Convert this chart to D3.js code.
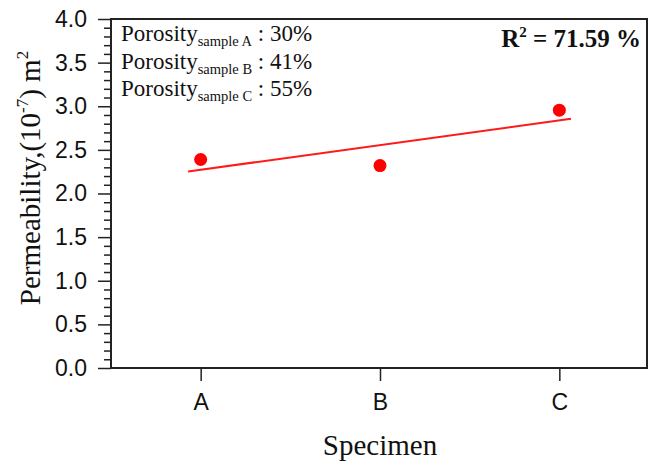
<!DOCTYPE html>
<html><head><meta charset="utf-8">
<script src="https://cdn.jsdelivr.net/npm/d3@7"></script>
<style>html,body{margin:0;padding:0;background:#fff;}svg{display:block;}</style>
</head><body>
<svg id="chart" width="653" height="465"></svg>
<script>
const categories = ["A", "B", "C"];
const permeability = [2.39, 2.32, 2.955];
const sampleNames = ["sample A", "sample B", "sample C"];
const porosity = ["30%", "41%", "55%"];
const yTickValues = [0, 0.5, 1.0, 1.5, 2.0, 2.5, 3.0, 3.5, 4.0];
const r2Text = "71.59 %";
const fitRange = [-0.07, 2.065];

const svg = d3.select("#chart");
const L = 111, R = 647, T = 19, B = 368;
const sans = "'Liberation Sans', Arial, sans-serif";
const serif = "'Liberation Serif', 'Times New Roman', serif";

const x = d3.scalePoint().domain(categories).range([L, 649]).padding(0.5);
const xi = d3.scaleLinear().domain([0, categories.length - 1]).range([x(categories[0]), x(categories[categories.length - 1])]);
const y = d3.scaleLinear().domain([0, 4]).range([B, T]);

// minor ticks on y
const minor = d3.range(0, 4.0001, 0.1).filter(v => Math.abs(v * 2 - Math.round(v * 2)) > 1e-6);
svg.append("g").attr("transform", `translate(${L},0)`)
  .call(d3.axisLeft(y).tickValues(minor).tickSize(7).tickFormat(""))
  .call(g => { g.select(".domain").remove(); g.selectAll("line").attr("stroke", "#222").attr("stroke-width", 1.5); });

// major y axis
svg.append("g").attr("transform", `translate(${L},0)`)
  .call(d3.axisLeft(y).tickValues(yTickValues).tickSize(13).tickPadding(11).tickFormat(d3.format(".1f")))
  .call(g => {
    g.select(".domain").remove();
    g.selectAll("line").attr("stroke", "#222").attr("stroke-width", 1.5);
    g.selectAll("text").attr("font-family", sans).attr("font-size", 23).attr("fill", "#111");
  });

// x axis
svg.append("g").attr("transform", `translate(0,${B})`)
  .call(d3.axisBottom(x).tickSize(13).tickPadding(13))
  .call(g => {
    g.select(".domain").remove();
    g.selectAll("line").attr("stroke", "#222").attr("stroke-width", 1.5);
    g.selectAll("text").attr("font-family", sans).attr("font-size", 23).attr("fill", "#111");
  });

// frame
svg.append("rect").attr("x", L).attr("y", T).attr("width", R - L).attr("height", B - T)
  .attr("fill", "none").attr("stroke", "#222").attr("stroke-width", 2);

// regression line
const xs = permeability.map((d, i) => i);
const mx = d3.mean(xs), my = d3.mean(permeability);
const slope = d3.sum(xs.map((v, i) => (v - mx) * (permeability[i] - my))) / d3.sum(xs.map(v => (v - mx) ** 2));
const icpt = my - slope * mx;
svg.append("line")
  .attr("x1", xi(fitRange[0])).attr("y1", y(icpt + slope * fitRange[0]))
  .attr("x2", xi(fitRange[1])).attr("y2", y(icpt + slope * fitRange[1]))
  .attr("stroke", "#ff1a1a").attr("stroke-width", 2);

// points
svg.append("g").selectAll("circle").data(permeability).join("circle")
  .attr("cx", (d, i) => x(categories[i])).attr("cy", d => y(d)).attr("r", 6.5).attr("fill", "#ff0000");

// legend text
sampleNames.forEach((s, i) => {
  const t = svg.append("text").attr("x", 121).attr("y", 41 + i * 27.5)
    .attr("font-family", serif).attr("font-size", 23).attr("fill", "#111");
  t.append("tspan").attr("font-family", serif).text("Porosity");
  t.append("tspan").attr("font-family", serif).attr("font-size", 14.5).attr("dy", 5).text(s);
  t.append("tspan").attr("font-family", serif).attr("dy", -5).text(" : " + porosity[i]);
});

// R2
const r2 = svg.append("text").attr("x", 641).attr("y", 47).attr("text-anchor", "end")
  .attr("font-family", serif).attr("font-weight", "bold").attr("font-size", 25).attr("fill", "#111");
r2.append("tspan").text("R");
r2.append("tspan").attr("font-size", 15).attr("dy", -10).text("2");
r2.append("tspan").attr("dy", 10).text(" = " + r2Text);

// y title
const yt = svg.append("text").attr("transform", "translate(40,178) rotate(-90)").attr("text-anchor", "middle")
  .attr("font-family", serif).attr("font-size", 29).attr("fill", "#111");
yt.append("tspan").text("Permeability,(10");
yt.append("tspan").attr("font-size", 17).attr("dy", -12).text("-7");
yt.append("tspan").attr("dy", 12).text(") m");
yt.append("tspan").attr("font-size", 17).attr("dy", -12).text("2");

// x title
svg.append("text").attr("x", 380).attr("y", 455).attr("text-anchor", "middle")
  .attr("font-family", serif).attr("font-size", 29).attr("fill", "#111").text("Specimen");
</script>
</body></html>
